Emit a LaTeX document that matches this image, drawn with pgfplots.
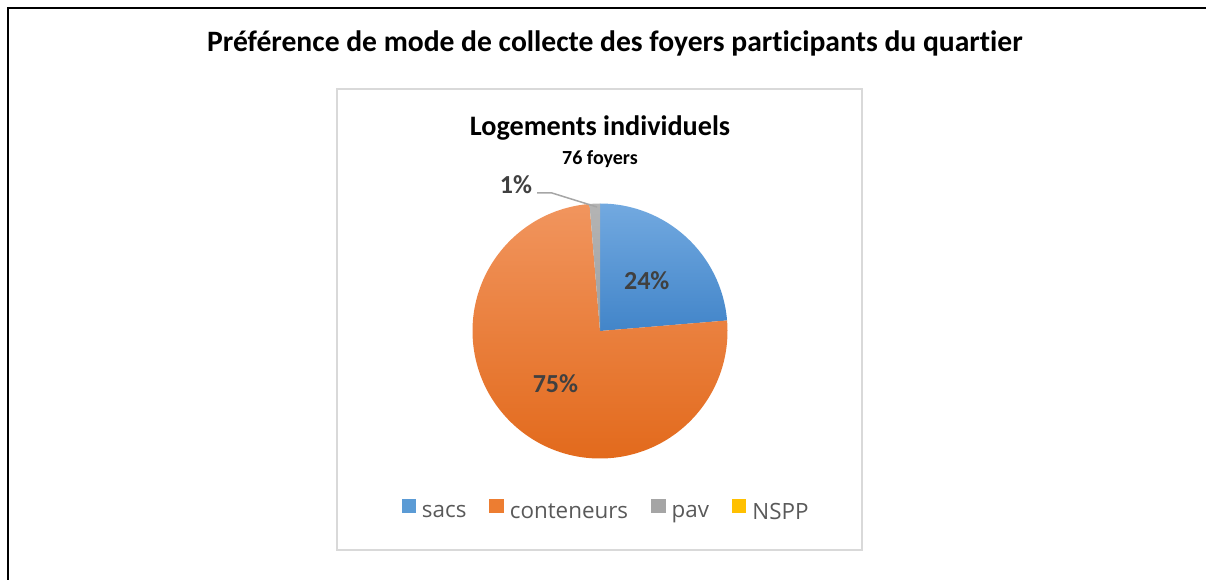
\documentclass[border=0pt]{standalone}
\usepackage{fontspec}
\setmainfont{Carlito}[Ligatures=NoCommon]
\newfontfamily\opensans{Open Sans}
\usepackage{pgfplots}
\usepackage{pgfplotstable}
\pgfplotsset{compat=1.18}

\definecolor{sacsT}{HTML}{72A9E0}
\definecolor{sacsB}{HTML}{4285C9}
\definecolor{contT}{HTML}{F1955E}
\definecolor{contB}{HTML}{E2691B}
\definecolor{pavT}{HTML}{B4B4B4}
\definecolor{pavB}{HTML}{A0A0A0}
\definecolor{sacsC}{HTML}{5B9BD5}
\definecolor{contC}{HTML}{ED7D31}
\definecolor{pavC}{HTML}{A5A5A5}
\definecolor{nsppC}{HTML}{FFC000}
\definecolor{lblgray}{HTML}{404040}
\definecolor{leggray}{HTML}{595959}
\definecolor{boxgray}{HTML}{D9D9D9}
\definecolor{leadgray}{HTML}{A6A6A6}

\pgfplotstableread{
label count
sacs 18
conteneurs 57
pav 1
NSPP 0
}\piedata

\begin{document}
\begin{tikzpicture}
\useasboundingbox (0,0) rectangle (603pt,289.5pt);
\begin{axis}[
  at={(0,0)}, anchor=south west,
  scale only axis, width=603pt, height=289.5pt,
  xmin=0, xmax=1206, ymin=0, ymax=579,
  hide axis, clip=false,
  legend columns=4,
  legend image code/.code={\fill[#1, draw=none] (0pt,0pt) rectangle (7.2pt,7.2pt);},
  legend style={at={(0.5017,0.118)}, anchor=center, draw=none, fill=none,
    font=\opensans\fontsize{11.2pt}{13pt}\selectfont, text=leggray,
    nodes={inner sep=0pt},
    /tikz/every odd column/.append style={column sep=3pt},
    /tikz/every even column/.append style={column sep=11.5pt}},
]
\addlegendimage{fill=sacsC, draw=none}
\addlegendentry{sacs}
\addlegendimage{fill=contC, draw=none}
\addlegendentry{conteneurs}
\addlegendimage{fill=pavC, draw=none}
\addlegendentry{pav}
\addlegendimage{fill=nsppC, draw=none}
\addlegendentry{NSPP}

\pgfplotsextra{
  % frames
  \draw[line width=1pt, black] (axis cs:1220,571) -- (axis cs:7.5,571) -- (axis cs:7.5,-10);
  \draw[line width=0.75pt, boxgray] (axis cs:337,490) rectangle (axis cs:862,29);
  % titles
  \node[anchor=base, font=\bfseries\fontsize{14.8pt}{17pt}\selectfont, inner sep=0pt] at (axis cs:615,527)
    {Préférence de mode de collecte des foyers participants du quartier};
  \node[anchor=base, font=\bfseries\fontsize{14.1pt}{16pt}\selectfont, inner sep=0pt] at (axis cs:600,443)
    {Logements individuels};
  \node[anchor=base, font=\bfseries\fontsize{10pt}{12pt}\selectfont, inner sep=0pt] at (axis cs:600,414)
    {76 foyers};
  % pie slices
  \gdef\cum{0}
  \foreach \i/\topc/\botc in {0/sacsT/sacsB,1/contT/contB,2/pavT/pavB}{
    \pgfplotstablegetelem{\i}{count}\of\piedata
    \let\cval\pgfplotsretval
    \pgfmathsetmacro{\sa}{90-(\cum/76)*360}
    \pgfmathsetmacro{\sb}{90-((\cum+\cval)/76)*360}
    \pgfmathsetmacro{\newcum}{\cum+\cval}
    \xdef\cum{\newcum}
    \shade[top color=\topc, bottom color=\botc]
      (axis cs:600,248) -- ++(\sa:63.75pt) arc[start angle=\sa, end angle=\sb, radius=63.75pt] -- cycle;
  }
  % inner labels
  \gdef\cum{0}
  \foreach \i in {0,1}{
    \pgfplotstablegetelem{\i}{count}\of\piedata
    \let\cval\pgfplotsretval
    \pgfmathsetmacro{\sm}{90-((\cum+\cval/2)/76)*360}
    \pgfmathtruncatemacro{\pc}{round(100*(\cval/76))}
    \pgfmathsetmacro{\newcum}{\cum+\cval}
    \xdef\cum{\newcum}
    \path (axis cs:600,248) ++(\sm:34.5pt) node[font=\bfseries\fontsize{13pt}{15pt}\selectfont, text=lblgray, inner sep=0pt] {\pc\%};
  }
  % outside label for pav
  \pgfplotstablegetelem{2}{count}\of\piedata
  \pgfmathtruncatemacro{\pc}{round(100*(\pgfplotsretval/76))}
  \draw[leadgray, line width=0.75pt] (axis cs:537,386) -- (axis cs:552,386) -- (axis cs:597,372);
  \node[anchor=base, font=\bfseries\fontsize{13pt}{15pt}\selectfont, text=lblgray, inner sep=0pt] at (axis cs:516,385) {\pc\%};
}
\end{axis}
\end{tikzpicture}
\end{document}
